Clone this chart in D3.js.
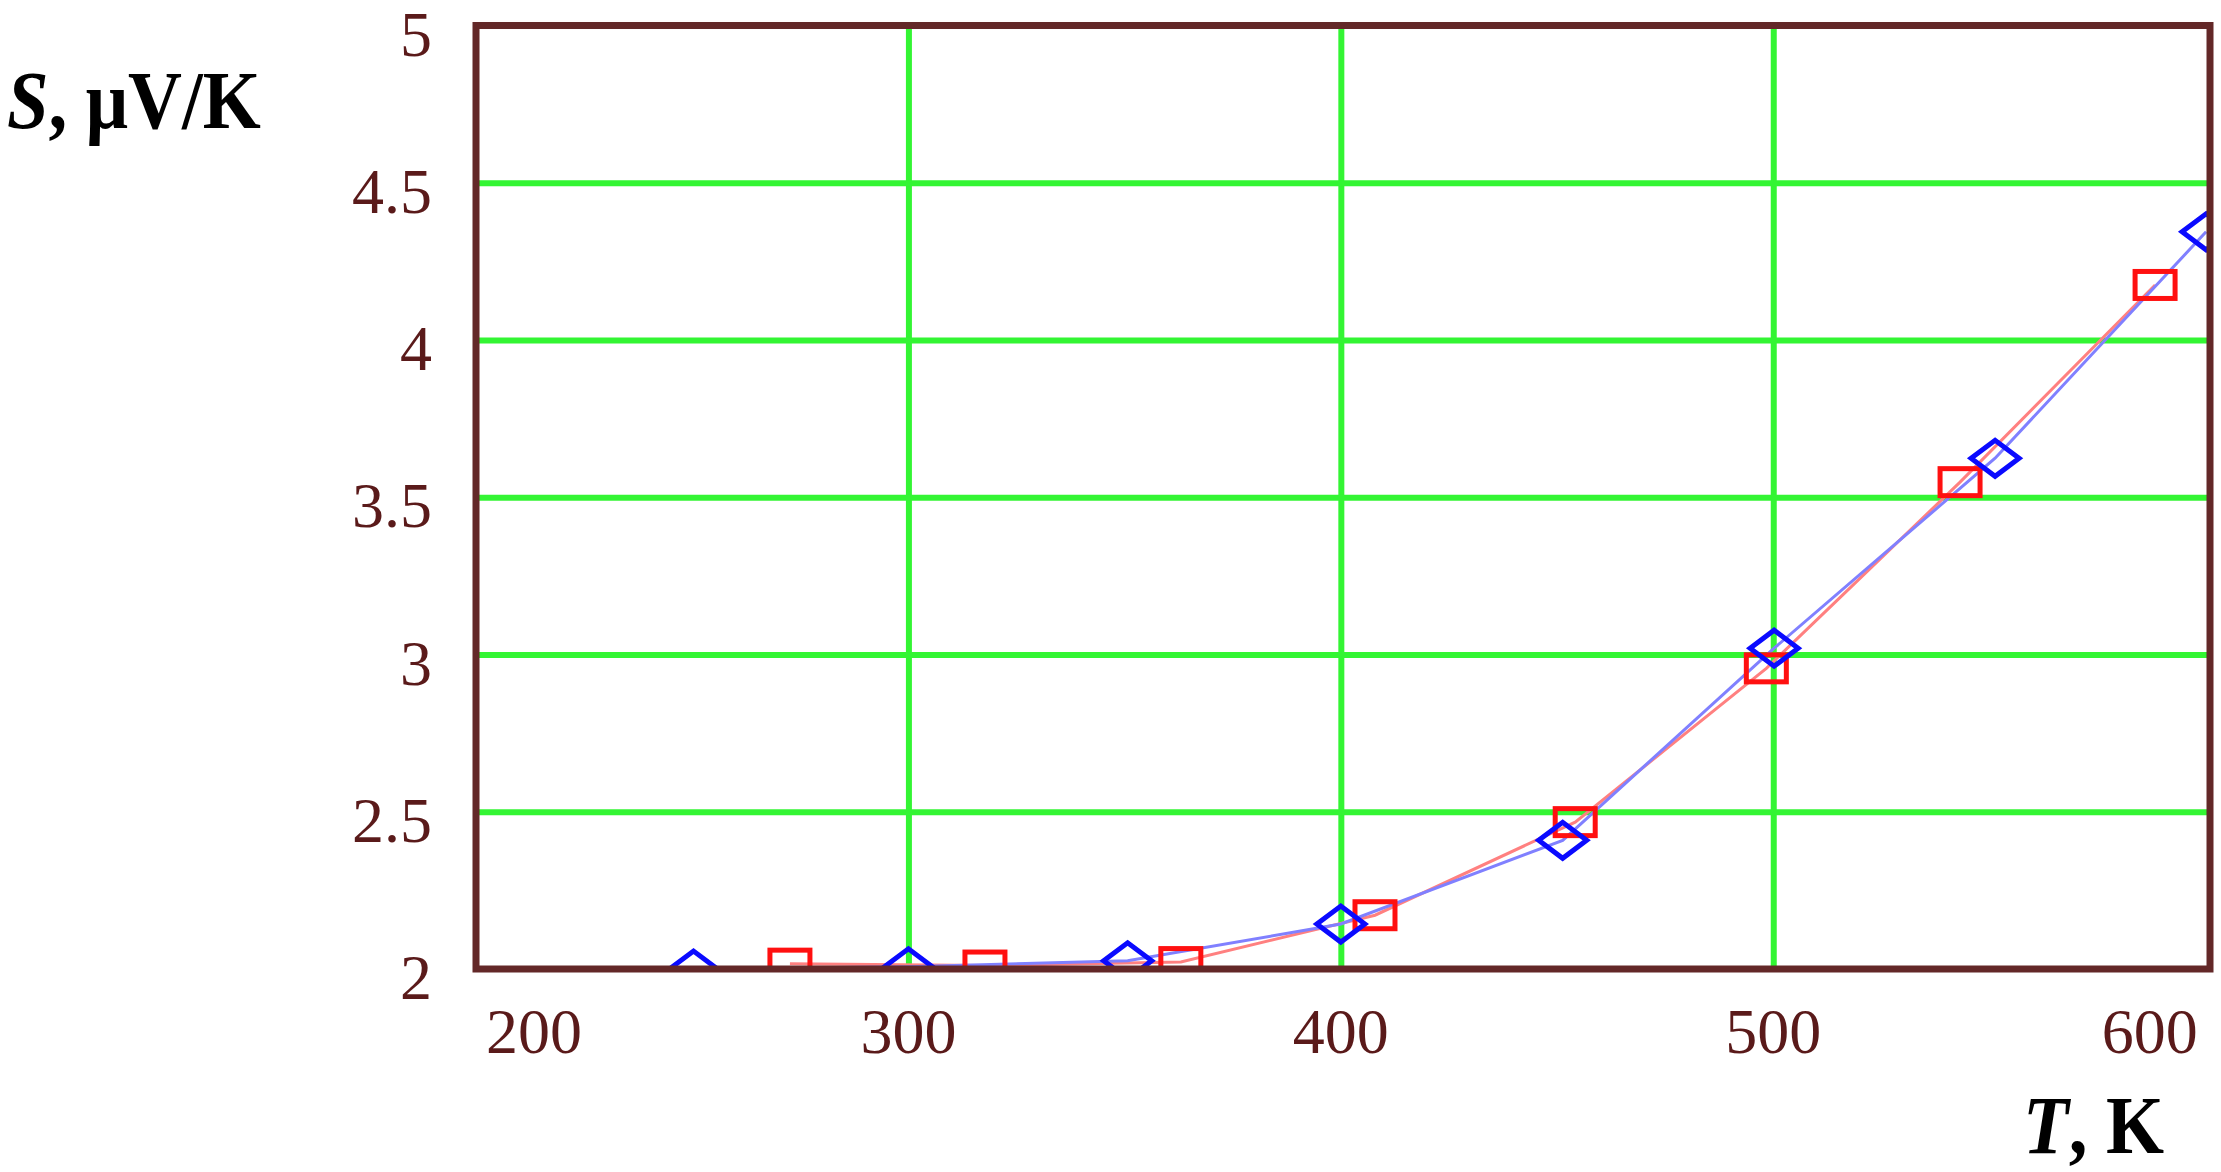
<!DOCTYPE html>
<html>
<head>
<meta charset="utf-8">
<script src="https://cdn.jsdelivr.net/npm/d3@7"></script>
<style>
	body{ margin:0; background:#fff; }
	svg{ display:block; }
</style>
</head>
<body>
<svg id="chart" width="2221" height="1172"></svg>
<script>
// ticks
let xTicks = [200, 300, 400, 500, 600];
let xTickLabels = ["200", "300", "400", "500", "600"];
let yTicks = [2, 2.5, 3, 3.5, 4, 4.5, 5];
let yTickLabels = ["2", "2.5", "3", "3.5", "4", "4.5", "5"];

// blue diamonds
let blueT = [250.3, 300, 350.7, 400, 451.3, 500.2, 551.3, 600.1];
let blueS = [2.0, 2.007, 2.026, 2.143, 2.409, 3.02, 3.624, 4.344];

// red squares
let redT = [272.6, 317.7, 363, 407.9, 454.2, 498.4, 543.2, 588.3];
let redS = [2.017, 2.011, 2.022, 2.171, 2.467, 2.956, 3.548, 4.175];

let svg = d3.select("#chart");

let x = d3.scaleLinear().domain([200, 601]).range([476, 2210]);
let y = d3.scaleLinear().domain([2, 5]).range([969, 25.5]);

let frameCol = "#632828";
let labelCol = "#5a1a1a";
let gridCol = "#33f533";

svg.append("rect").attr("width", 2221).attr("height", 1172).attr("fill", "#fff");

svg.append("defs").append("clipPath").attr("id", "plotclip")
	.append("rect")
	.attr("x", x(200)).attr("y", y(5))
	.attr("width", x(601) - x(200)).attr("height", y(2) - y(5));

/*////////////////////////////
 * GRILLE
 ////////////////////////////*/
let gx = svg.append("g")
	.attr("transform", "translate(0," + y(2) + ")")
	.call(d3.axisBottom(x).tickValues(xTicks.slice(1, -1)).tickSize(-(y(2) - y(5))).tickFormat(""));
gx.select(".domain").remove();
gx.selectAll("line").attr("stroke", gridCol).attr("stroke-width", 6);

let gy = svg.append("g")
	.attr("transform", "translate(" + x(200) + ",0)")
	.call(d3.axisLeft(y).tickValues(yTicks.slice(1, -1)).tickSize(-(x(601) - x(200))).tickFormat(""));
gy.select(".domain").remove();
gy.selectAll("line").attr("stroke", gridCol).attr("stroke-width", 6);

/*////////////////////////////
 * COURBES
 ////////////////////////////*/
let plot = svg.append("g").attr("clip-path", "url(#plotclip)");

let line = d3.line().x(d => x(d[0])).y(d => y(d[1]));

let redPts = redT.map((t, i) => [t, redS[i]]);
let bluePts = blueT.map((t, i) => [t, blueS[i]]);

plot.append("path").datum(redPts)
	.attr("d", line)
	.attr("fill", "none")
	.attr("stroke", "#ff8080")
	.attr("stroke-width", 3);

plot.append("path").datum(bluePts)
	.attr("d", line)
	.attr("fill", "none")
	.attr("stroke", "#8080ff")
	.attr("stroke-width", 3);

plot.selectAll("rect.sq").data(redPts)
	.enter()
	.append("rect")
	.attr("class", "sq")
	.attr("x", d => x(d[0]) - 20)
	.attr("y", d => y(d[1]) - 13.5)
	.attr("width", 40)
	.attr("height", 27)
	.attr("fill", "none")
	.attr("stroke", "#ff1010")
	.attr("stroke-width", 5);

plot.selectAll("path.dia").data(bluePts)
	.enter()
	.append("path")
	.attr("class", "dia")
	.attr("d", function(d){
		let cx = x(d[0]), cy = y(d[1]);
		return "M" + (cx - 24) + "," + cy + "L" + cx + "," + (cy - 18) + "L" + (cx + 24) + "," + cy + "L" + cx + "," + (cy + 18) + "Z";
	})
	.attr("fill", "none")
	.attr("stroke", "#0a0aff")
	.attr("stroke-width", 5);

/*////////////////////////////
 * CADRE + LABELS
 ////////////////////////////*/
svg.append("rect")
	.attr("x", x(200)).attr("y", y(5))
	.attr("width", x(601) - x(200)).attr("height", y(2) - y(5))
	.attr("fill", "none")
	.attr("stroke", frameCol)
	.attr("stroke-width", 7);

svg.selectAll("text.ytick").data(yTicks)
	.enter()
	.append("text")
	.attr("class", "ytick")
	.attr("x", 432)
	.attr("y", d => y(d) + 30)
	.attr("text-anchor", "end")
	.attr("font-family", "Liberation Serif, Times New Roman, serif")
	.attr("font-size", 64)
	.attr("fill", labelCol)
	.text((d, i) => yTickLabels[i]);

svg.selectAll("text.xtick").data(xTicks)
	.enter()
	.append("text")
	.attr("class", "xtick")
	.attr("x", function(d, i){
		if(i == 0) return x(d) + 10;
		if(i == xTicks.length - 1) return x(d) - 8;
		return x(d);
	})
	.attr("y", 1053)
	.attr("text-anchor", function(d, i){
		if(i == 0) return "start";
		if(i == xTicks.length - 1) return "end";
		return "middle";
	})
	.attr("font-family", "Liberation Serif, Times New Roman, serif")
	.attr("font-size", 64)
	.attr("fill", labelCol)
	.text((d, i) => xTickLabels[i]);

// titres un peu serrés comme sur l'original
let yTitle = svg.append("text")
	.attr("transform", "translate(7,128) scale(0.91,1)")
	.attr("font-family", "Liberation Serif, Times New Roman, serif")
	.attr("font-size", 82)
	.attr("font-weight", "bold")
	.attr("fill", "#000");
yTitle.append("tspan").attr("font-style", "italic").text("S");
yTitle.append("tspan").text(", μV/K");

let xTitle = svg.append("text")
	.attr("transform", "translate(2164,1153) scale(0.91,1)")
	.attr("text-anchor", "end")
	.attr("font-family", "Liberation Serif, Times New Roman, serif")
	.attr("font-size", 82)
	.attr("font-weight", "bold")
	.attr("fill", "#000");
xTitle.append("tspan").attr("font-style", "italic").text("T");
xTitle.append("tspan").text(", K");
</script>
</body>
</html>
